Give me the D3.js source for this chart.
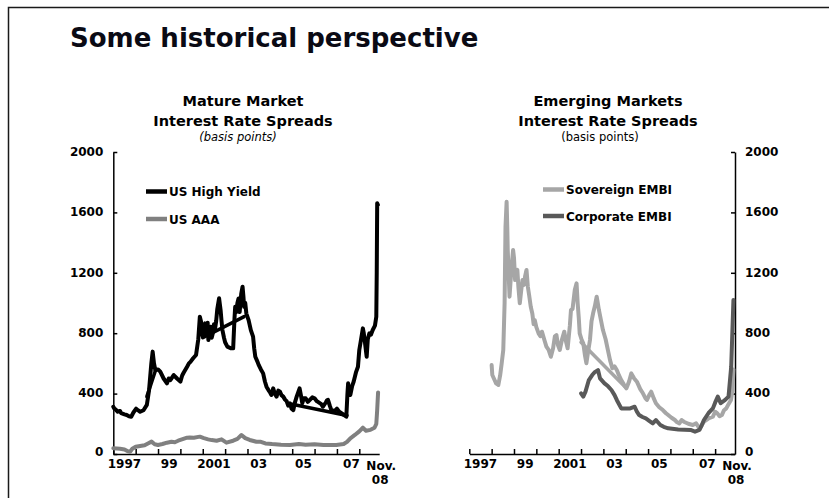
<!DOCTYPE html>
<html>
<head>
<meta charset="utf-8">
<script src="https://cdn.jsdelivr.net/npm/d3@7"></script>
<style>
  body { margin: 0; background: #fff; }
  svg { display: block; }
</style>
</head>
<body>
<svg id="chart" width="829" height="498"></svg>
<script>
// --- data: [decimal year, spread in basis points] ---
var highYield = [
  [1997.0,313],[1997.05,300],[1997.1,295],[1997.2,280],[1997.3,285],[1997.35,270],[1997.5,262],
  [1997.6,258],[1997.7,250],[1997.8,247],[1997.9,275],[1998.02,300],[1998.1,290],[1998.2,280],
  [1998.35,290],[1998.5,325],[1998.6,424],[1998.7,600],[1998.76,678],[1998.82,600],[1998.88,556],
  [1999.0,560],[1999.1,545],[1999.25,500],[1999.4,468],[1999.48,500],[1999.55,490],[1999.7,523],
  [1999.85,500],[2000.0,479],[2000.08,520],[2000.15,540],[2000.3,578],[2000.38,600],[2000.45,610],
  [2000.57,634],[2000.7,656],[2000.8,760],[2000.87,909],[2000.92,880],[2000.95,820],[2001.0,777],
  [2001.05,820],[2001.1,865],[2001.14,800],[2001.18,790],[2001.22,870],[2001.25,755],[2001.3,790],
  [2001.35,843],[2001.4,770],[2001.45,800],[2001.5,860],[2001.55,830],[2001.6,880],[2001.65,960],
  [2001.73,1031],[2001.8,950],[2001.84,880],[2001.88,821],[2001.95,770],[2002.0,740],[2002.1,711],
  [2002.25,700],[2002.36,700],[2002.42,900],[2002.45,975],[2002.5,940],[2002.55,1000],
  [2002.6,1030],[2002.65,940],[2002.72,1060],[2002.78,1108],[2002.82,1040],[2002.85,975],
  [2002.9,1000],[2002.95,930],[2003.05,887],[2003.15,820],[2003.25,777],[2003.3,700],
  [2003.35,644],[2003.45,610],[2003.5,590],[2003.6,560],[2003.7,534],[2003.78,480],[2003.85,446],
  [2003.95,420],[2004.0,410],[2004.07,391],[2004.15,435],[2004.22,400],[2004.3,380],[2004.38,420],
  [2004.45,413],[2004.52,390],[2004.6,380],[2004.68,360],[2004.75,350],[2004.82,320],[2004.9,336],
  [2004.97,300],[2005.05,291],[2005.12,340],[2005.2,380],[2005.33,435],[2005.4,380],[2005.45,336],
  [2005.52,370],[2005.6,369],[2005.7,345],[2005.8,360],[2005.9,375],[2006.0,369],[2006.1,350],
  [2006.2,340],[2006.3,330],[2006.37,313],[2006.45,330],[2006.5,340],[2006.55,355],[2006.6,358],
  [2006.68,320],[2006.75,291],[2006.9,285],[2007.0,300],[2007.1,280],[2007.2,270],[2007.3,260],
  [2007.42,247],[2007.47,400],[2007.5,468],[2007.55,420],[2007.6,391],[2007.68,450],[2007.75,480],
  [2007.85,540],[2007.94,578],[2008.0,689],[2008.08,760],[2008.16,832],[2008.2,800],[2008.25,744],
  [2008.3,680],[2008.33,644],[2008.38,760],[2008.45,799],[2008.52,790],[2008.6,821],[2008.7,850],
  [2008.76,909],[2008.78,1200],[2008.8,1660],[2008.83,1650]
];
// straight stretches drawn over the high-yield line
var highYieldJumps = [
  [[1998.5,380],[1998.9,560]],
  [[2001.0,770],[2002.85,910]],
  [[2005.0,330],[2007.45,255]]
];
var usAAA = [
  [1997.0,38],[1997.3,35],[1997.5,30],[1997.65,18],[1997.75,15],[1997.85,35],[1998.0,48],
  [1998.2,53],[1998.4,58],[1998.55,70],[1998.71,82],[1998.85,65],[1999.0,60],[1999.2,66],
  [1999.4,75],[1999.6,81],[1999.75,78],[1999.9,88],[2000.1,98],[2000.3,108],[2000.42,110],
  [2000.6,108],[2000.87,115],[2001.05,105],[2001.24,97],[2001.4,92],[2001.62,88],[2001.84,97],
  [2002.06,75],[2002.36,88],[2002.55,100],[2002.73,126],[2002.9,105],[2003.1,93],[2003.4,81],
  [2003.6,81],[2003.8,70],[2004.1,66],[2004.5,62],[2004.9,60],[2005.3,66],[2005.6,62],
  [2006.0,64],[2006.4,60],[2006.97,60],[2007.3,66],[2007.45,80],[2007.6,104],[2007.8,126],
  [2008.0,150],[2008.16,174],[2008.3,154],[2008.5,160],[2008.68,174],[2008.76,200],
  [2008.8,291],[2008.84,408]
];
var sovereign = [
  [1998.0,589],[1998.03,523],[1998.1,500],[1998.2,468],[1998.3,457],[1998.38,520],[1998.45,601],
  [1998.52,689],[1998.58,1000],[1998.62,1505],[1998.67,1671],[1998.7,1500],[1998.72,1351],
  [1998.76,1200],[1998.8,1042],[1998.85,1150],[1998.9,1250],[1998.96,1351],[1999.0,1300],
  [1999.05,1152],[1999.1,1200],[1999.15,1219],[1999.2,1100],[1999.26,998],[1999.32,1080],
  [1999.38,1152],[1999.45,1120],[1999.5,1180],[1999.56,1219],[1999.62,1108],[1999.68,1050],
  [1999.75,975],[1999.82,930],[1999.88,860],[1999.93,887],[2000.0,840],[2000.1,799],[2000.18,780],
  [2000.25,810],[2000.35,760],[2000.45,711],[2000.55,690],[2000.65,644],[2000.75,700],[2000.83,780],
  [2000.9,788],[2000.97,720],[2001.05,689],[2001.15,760],[2001.25,810],[2001.32,750],[2001.4,700],
  [2001.5,850],[2001.55,954],[2001.62,960],[2001.72,1086],[2001.8,1130],[2001.85,998],[2001.9,900],
  [2001.94,799],[2002.02,760],[2002.1,733],[2002.18,650],[2002.24,601],[2002.32,680],[2002.4,755],
  [2002.47,880],[2002.54,932],[2002.62,980],[2002.7,1042],[2002.75,1000],[2002.8,954],[2002.9,880],
  [2002.98,821],[2003.1,760],[2003.2,689],[2003.3,620],[2003.4,568],[2003.5,580],[2003.6,556],
  [2003.7,520],[2003.8,490],[2003.92,460],[2004.03,435],[2004.15,480],[2004.25,534],[2004.38,500],
  [2004.5,479],[2004.65,430],[2004.77,402],[2004.88,370],[2004.95,358],[2005.05,390],[2005.14,413],
  [2005.25,370],[2005.35,336],[2005.5,310],[2005.66,291],[2005.8,270],[2005.9,258],[2006.05,240],
  [2006.2,225],[2006.3,210],[2006.4,203],[2006.5,225],[2006.6,214],[2006.8,200],[2007.0,192],
  [2007.15,203],[2007.3,170],[2007.4,190],[2007.5,214],[2007.7,235],[2007.9,247],[2008.0,280],
  [2008.1,269],[2008.2,250],[2008.3,258],[2008.4,290],[2008.5,302],[2008.6,330],[2008.71,358],
  [2008.78,424],[2008.82,560]
];
var sovereignJumps = [
  [[2002.0,740],[2004.0,440]]
];
var corporate = [
  [2002.0,402],[2002.1,380],[2002.2,413],[2002.35,490],[2002.5,523],[2002.6,540],[2002.76,556],
  [2002.85,501],[2003.05,468],[2003.2,450],[2003.36,424],[2003.5,390],[2003.6,358],[2003.8,302],
  [2004.0,302],[2004.2,302],[2004.4,313],[2004.5,280],[2004.6,258],[2004.75,245],[2004.9,236],
  [2005.05,220],[2005.21,203],[2005.35,225],[2005.55,192],[2005.7,180],[2005.9,170],
  [2006.35,163],[2006.9,159],[2007.1,148],[2007.3,159],[2007.4,190],[2007.5,225],[2007.7,270],
  [2007.9,302],[2008.0,340],[2008.12,380],[2008.25,336],[2008.45,358],[2008.6,380],[2008.72,578],
  [2008.82,1020]
];

var yTicks = [0, 400, 800, 1200, 1600, 2000];
var tickYears = d3.range(1997, 2009);
var xLabels = ["1997", "99", "2001", "03", "05", "07"];
var xLabelYears = [1997.5, 1999.5, 2001.5, 2003.5, 2005.5, 2007.65];
var endLabel = ["Nov.", "08"];
var lastYear = 2008.89;

var svg = d3.select("#chart");
var boldFont = "'DejaVu Sans', Verdana, sans-serif";

// frame round the slide
svg.append("rect")
  .attr("x", 8.5).attr("y", 7.5)
  .attr("width", 900).attr("height", 600)
  .attr("fill", "none").attr("stroke", "#1a1a1a").attr("stroke-width", 1.5);

svg.append("text")
  .attr("x", 70).attr("y", 47)
  .attr("font-family", boldFont).attr("font-weight", "bold")
  .attr("font-size", 26).attr("fill", "#0a0a14")
  .text("Some historical perspective");

var y = d3.scaleLinear().domain([0, 2000]).range([454, 152]);

function drawPanel(opt) {
  var x = d3.scaleLinear().domain([1997, lastYear]).range(opt.range);
  var g = svg.append("g");

  // titles
  var t = g.append("g").attr("text-anchor", "middle").attr("fill", "#000");
  t.append("text").attr("x", opt.titleX).attr("y", 106)
    .attr("font-family", boldFont).attr("font-weight", "bold").attr("font-size", 14.5)
    .text(opt.title[0]);
  t.append("text").attr("x", opt.titleX).attr("y", 126)
    .attr("font-family", boldFont).attr("font-weight", "bold").attr("font-size", 14.5)
    .text(opt.title[1]);
  t.append("text").attr("x", opt.unitX).attr("y", 141)
    .attr("font-family", boldFont).attr("font-size", 11.5)
    .attr("font-style", opt.italic ? "italic" : "normal")
    .text("(basis points)");

  // axes
  var yAxis = (opt.side === "left" ? d3.axisLeft(y) : d3.axisRight(y))
    .tickValues(yTicks).tickSize(-4).tickSizeOuter(0).tickPadding(10)
    .tickFormat(d3.format("d"));
  var xAxis = d3.axisBottom(x).tickValues(tickYears)
    .tickSize(-5).tickSizeOuter(0).tickFormat("");

  g.append("g")
    .attr("transform", "translate(0," + y(0) + ")")
    .call(xAxis);
  var ya = g.append("g")
    .attr("transform", "translate(" + (opt.side === "left" ? opt.range[0] : opt.range[1]) + ",0)")
    .call(yAxis);
  ya.selectAll(".tick text").attr("dy", function(d) { return d === 0 ? "0.15em" : "0.28em"; });
  g.selectAll(".domain, .tick line").attr("stroke", "#000").attr("stroke-width", 1.5);
  g.selectAll(".tick text")
    .attr("font-family", boldFont).attr("font-weight", "bold")
    .attr("font-size", 12).attr("fill", "#000");

  var xl = g.append("g").attr("text-anchor", "middle")
    .attr("font-family", boldFont).attr("font-weight", "bold")
    .attr("font-size", 12).attr("fill", "#000");
  xLabels.forEach(function(s, i) {
    xl.append("text").attr("x", x(xLabelYears[i])).attr("y", 468).text(s);
  });
  xl.append("text").attr("x", x(lastYear) + 2).attr("y", 470).text(endLabel[0]);
  xl.append("text").attr("x", x(lastYear) + 1).attr("y", 484).text(endLabel[1]);

  // lines
  var line = d3.line().x(function(d) { return x(d[0]); }).y(function(d) { return y(d[1]); });
  opt.series.forEach(function(s) {
    g.append("path").datum(s.data)
      .attr("d", line)
      .attr("fill", "none").attr("stroke", s.color).attr("stroke-width", 4)
      .attr("stroke-linejoin", "round").attr("stroke-linecap", "round");
    (s.jumps || []).forEach(function(j) {
      g.append("path").datum(j)
        .attr("d", line)
        .attr("fill", "none").attr("stroke", s.color).attr("stroke-width", 3.5)
        .attr("stroke-linecap", "round");
    });
  });

  // legend
  opt.series.forEach(function(s, i) {
    var ly = opt.legendY[i];
    g.append("line")
      .attr("x1", opt.legendX).attr("x2", opt.legendX + 21)
      .attr("y1", ly).attr("y2", ly)
      .attr("stroke", s.color).attr("stroke-width", 4.5);
    g.append("text")
      .attr("x", opt.legendX + 23).attr("y", ly + 4.5)
      .attr("font-family", boldFont).attr("font-weight", "bold")
      .attr("font-size", 12).attr("fill", "#000")
      .text(s.name);
  });
}

drawPanel({
  range: [113.3, 379.2], side: "left",
  title: ["Mature Market", "Interest Rate Spreads"], titleX: 243, unitX: 238, italic: true,
  legendX: 146, legendY: [191.5, 219],
  series: [
    { name: "US High Yield", color: "#000000", data: highYield, jumps: highYieldJumps },
    { name: "US AAA", color: "#808080", data: usAAA }
  ]
});

drawPanel({
  range: [469.3, 735], side: "right",
  title: ["Emerging Markets", "Interest Rate Spreads"], titleX: 608, unitX: 600, italic: false,
  legendX: 543, legendY: [189.5, 216],
  series: [
    { name: "Sovereign EMBI", color: "#a6a6a6", data: sovereign, jumps: sovereignJumps },
    { name: "Corporate EMBI", color: "#595959", data: corporate }
  ]
});
</script>
</body>
</html>
